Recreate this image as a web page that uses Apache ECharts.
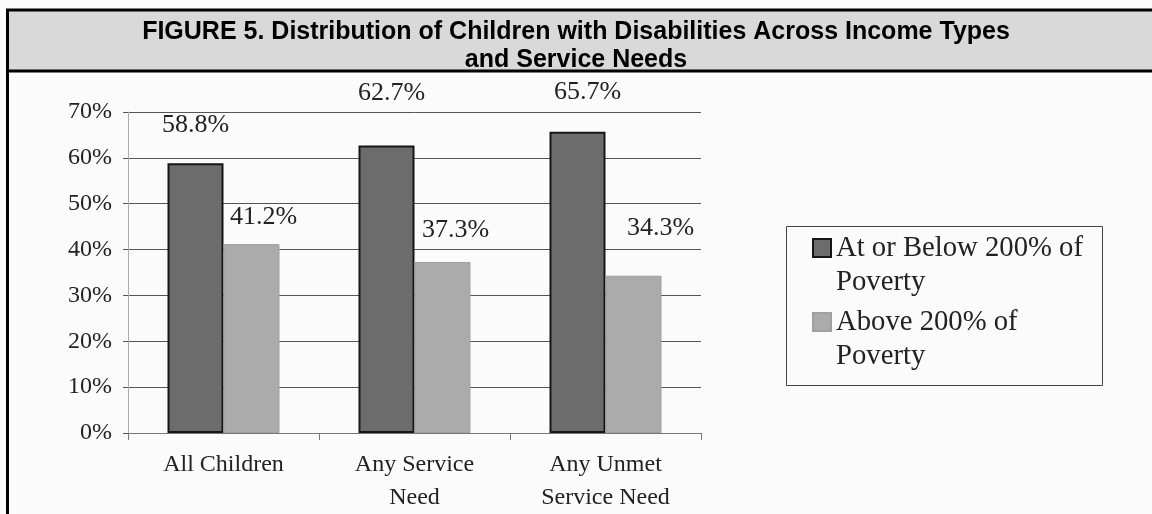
<!DOCTYPE html>
<html>
<head>
<meta charset="utf-8">
<script src="https://cdn.jsdelivr.net/npm/echarts@6/dist/echarts.min.js"></script>
<style>
html,body{margin:0;padding:0;background:#fbfbfb;}
#chart{width:1152px;height:514px;}
</style>
</head>
<body>
<div id="chart"></div>
<script>
// ---- data ----
const titleText = 'FIGURE 5. Distribution of Children with Disabilities Across Income Types\nand Service Needs';
const categories = ['All Children', 'Any Service\nNeed', 'Any Unmet\nService Need'];
const seriesNames = ['At or Below 200% of Poverty', 'Above 200% of Poverty'];
const legendLabels = ['At or Below 200% of\nPoverty', 'Above 200% of\nPoverty'];
const belowPoverty = [58.8, 62.7, 65.7];
const abovePoverty = [41.2, 37.3, 34.3];
const yTicks = [0, 10, 20, 30, 40, 50, 60, 70];

// ---- layout (label offsets relative to bar tops, as placed in the original) ----
const belowLabelOffsets = [[0, -25], [5, -39], [10, -27]];
const aboveLabelOffsets = [[12, -14], [13, -19], [27, -35]];

const serif = 'Liberation Serif, Times New Roman, serif';
const chart = echarts.init(document.getElementById('chart'), null, {renderer: 'canvas'});

function mkData(vals, offs) {
  return vals.map((v, i) => ({value: v, label: {offset: offs[i]}}));
}

const option = {
  animation: false,
  backgroundColor: '#fbfbfb',
  title: {
    text: titleText,
    left: 'center',
    top: 18,
    padding: 0,
    textStyle: {
      fontFamily: 'Liberation Sans, Arial, sans-serif',
      fontWeight: 'bold',
      fontSize: 25,
      lineHeight: 28,
      color: '#000'
    }
  },
  graphic: [
    {type: 'rect', z: 0, shape: {x: 7.5, y: 10, width: 1150, height: 61},
     style: {fill: '#d9d9d9', stroke: '#000', lineWidth: 3}},
    {type: 'line', z: 1, shape: {x1: 7.5, y1: 10, x2: 7.5, y2: 514},
     style: {stroke: '#000', lineWidth: 3}},
    {type: 'rect', z: 1, shape: {x: 786.5, y: 226.5, width: 316, height: 159},
     style: {fill: 'none', stroke: '#444', lineWidth: 1}}
  ],
  legend: {
    orient: 'vertical',
    left: 812,
    top: 197,
    padding: 0,
    icon: 'rect',
    itemWidth: 18,
    itemHeight: 18,
    itemGap: -28,
    data: seriesNames,
    formatter: name => '\u00a0\n' + legendLabels[seriesNames.indexOf(name)],
    textStyle: {
      fontFamily: serif,
      fontSize: 28.7,
      lineHeight: 34,
      color: '#222'
    }
  },
  grid: {left: 128, right: 451, top: 112, bottom: 81, containLabel: false},
  xAxis: {
    type: 'category',
    data: categories,
    axisLine: {show: true, lineStyle: {color: '#777', width: 1}},
    axisTick: {show: true, length: 7, lineStyle: {color: '#777'}},
    axisLabel: {
      fontFamily: serif, fontSize: 24, lineHeight: 33, color: '#222', margin: 15
    }
  },
  yAxis: {
    type: 'value',
    min: 0, max: 70, interval: 10,
    axisLine: {show: true, lineStyle: {color: '#aaa', width: 1}},
    axisTick: {show: true, length: 5, lineStyle: {color: '#555'}},
    splitLine: {show: true, lineStyle: {color: '#555', width: 1}},
    axisLabel: {
      fontFamily: serif, fontSize: 24, color: '#222', margin: 16,
      formatter: v => yTicks.includes(v) ? v + '%' : ''
    }
  },
  series: [
    {
      name: seriesNames[0],
      type: 'bar',
      barWidth: 56,
      barGap: '0%',
      data: mkData(belowPoverty, belowLabelOffsets),
      itemStyle: {color: '#6c6c6c', borderColor: '#161616', borderWidth: 2},
      label: {
        show: true, position: 'top', distance: 0,
        fontFamily: serif, fontSize: 26, lineHeight: 26, color: '#222',
        formatter: p => p.value.toFixed(1) + '%'
      }
    },
    {
      name: seriesNames[1],
      type: 'bar',
      barWidth: 56,
      data: mkData(abovePoverty, aboveLabelOffsets),
      itemStyle: {color: '#ababab', borderColor: '#a0a0a0', borderWidth: 1},
      label: {
        show: true, position: 'top', distance: 0,
        fontFamily: serif, fontSize: 26, lineHeight: 26, color: '#222',
        formatter: p => p.value.toFixed(1) + '%'
      }
    }
  ]
};
chart.setOption(option);
</script>
</body>
</html>
